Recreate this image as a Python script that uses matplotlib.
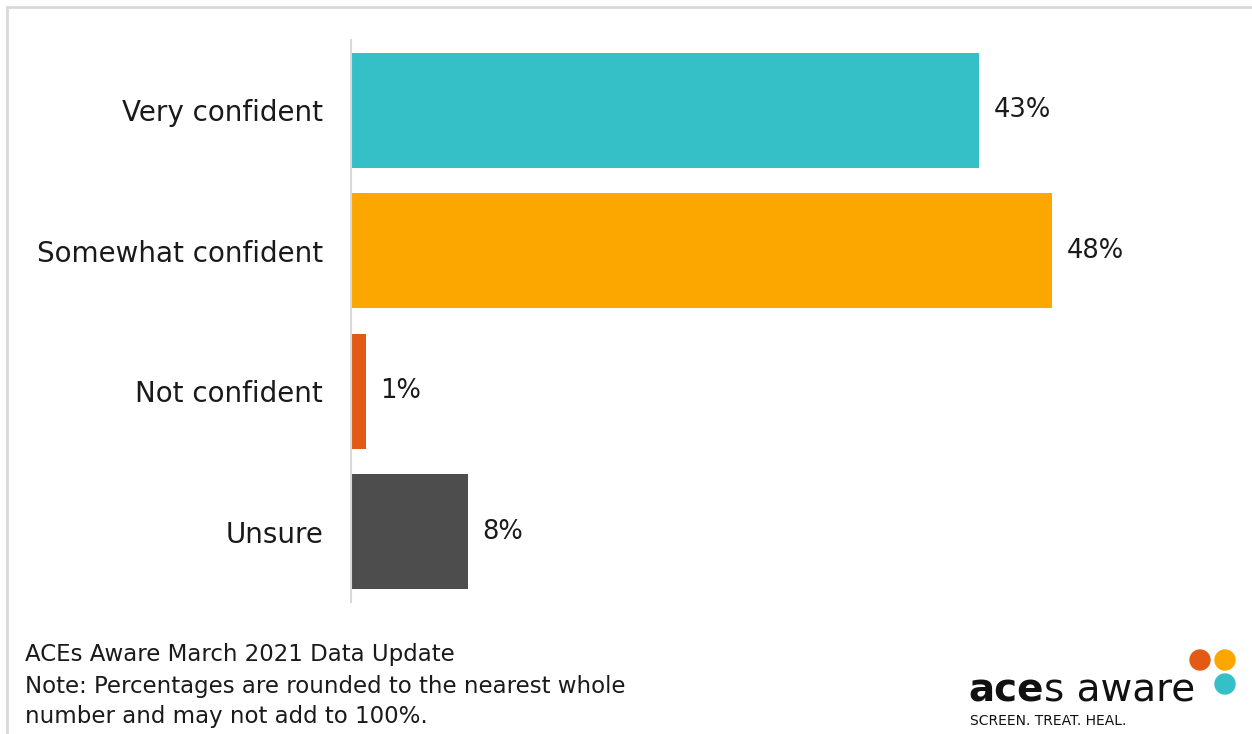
import matplotlib.pyplot as plt
from matplotlib.patches import Circle
from matplotlib.lines import Line2D

# Data
categories = ['Very confident', 'Somewhat confident', 'Not confident', 'Unsure']
values = [43, 48, 1, 8]
colors = ['#35BFC7', '#FBA700', '#E35A14', '#4D4D4D']

plt.rcParams['font.family'] = ['DejaVu Sans']

W, H = 1252, 734
fig = plt.figure(figsize=(W / 100, H / 100), dpi=100)

# axes spans x 351..1227 px, y 40..602 px
ax = fig.add_axes([351 / W, 1 - 602 / H, (1227 - 351) / W, (602 - 40) / H])
ypos = list(range(len(categories)))
ax.barh(ypos, values, height=0.82, color=colors)
ax.set_xlim(0, 60)
ax.set_ylim(3.5, -0.5)
ax.set_yticks(ypos)
ax.set_yticklabels(categories, fontsize=20, color='#1a1a1a')
ax.tick_params(axis='y', length=0, pad=20)
ax.set_xticks([])
for s in ['top', 'right', 'bottom']:
    ax.spines[s].set_visible(False)
ax.spines['left'].set_color('#d9d9d9')
ax.spines['left'].set_linewidth(1.5)
for lbl in ax.get_yticklabels():
    lbl.set_y(lbl.get_position()[1])

for y, v in zip(ypos, values):
    ax.text(v + 1.0, y, f'{v}%', va='center', ha='left', fontsize=18.5, color='#1a1a1a')

# frame lines (top and left)
fig.add_artist(Line2D([7 / W, 1], [1 - 7 / H, 1 - 7 / H], color='#d9d9d9', lw=2, transform=fig.transFigure))
fig.add_artist(Line2D([7 / W, 7 / W], [0, 1 - 7 / H], color='#d9d9d9', lw=2, transform=fig.transFigure))

# footnote
notes = ['ACEs Aware March 2021 Data Update',
         'Note: Percentages are rounded to the nearest whole',
         'number and may not add to 100%.']
for i, line in enumerate(notes):
    fig.text(25 / W, 1 - (655 + 31 * i) / H, line, fontsize=16.5, va='center', ha='left', color='#1a1a1a')

# logo
t1 = fig.text(968 / W, 1 - 702 / H, 'ace', fontsize=28, fontweight='bold', va='baseline', ha='left', color='#111111')
ax.annotate('s aware', xy=(1, 0), xycoords=t1, fontsize=28, va='bottom', ha='left', color='#111111',
            annotation_clip=False)
fig.text(970 / W, 1 - 721 / H, 'SCREEN. TREAT. HEAL.', fontsize=10, va='center', ha='left', color='#111111')

# circles drawn in a pixel-coordinate overlay
ov = fig.add_axes([0, 0, 1, 1], facecolor='none')
ov.set_xlim(0, W)
ov.set_ylim(H, 0)
ov.axis('off')
for cx, cy, c in [(1200, 660, '#E35A14'), (1225, 660, '#FBA700'), (1225, 684, '#35BFC7')]:
    ov.add_patch(Circle((cx, cy), 10, color=c))

fig.savefig('out.png', dpi=100)
